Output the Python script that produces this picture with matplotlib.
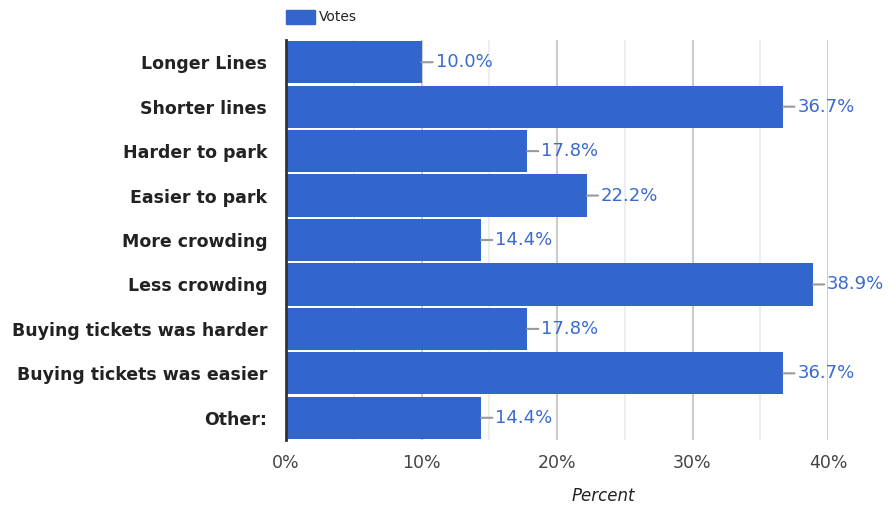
import matplotlib
matplotlib.use("Agg")
import matplotlib.pyplot as plt
from matplotlib.patches import Rectangle

categories = ["Longer Lines", "Shorter lines", "Harder to park", "Easier to park",
              "More crowding", "Less crowding", "Buying tickets was harder",
              "Buying tickets was easier", "Other:"]
values = [10.0, 36.7, 17.8, 22.2, 14.4, 38.9, 17.8, 36.7, 14.4]
major_ticks = [0, 10, 20, 30, 40]
minor_ticks = [5, 15, 25, 35]
series_name = "Votes"
x_label = "Percent"

bar_color = "#3366cc"

fig = plt.figure(figsize=(8.9, 5.05), dpi=100)
ax = fig.add_axes([286/890, 1-440/505, (828-286)/890, 400/505])

y = list(range(len(categories)))
ax.barh(y, values, height=0.95, color=bar_color, zorder=3)
ax.set_ylim(len(categories)-0.5, -0.5)
ax.set_xlim(0, 40)

for v in major_ticks[1:]:
    ax.axvline(v, color="#cccccc", lw=1.5, zorder=1)
for v in minor_ticks:
    ax.axvline(v, color="#ebebeb", lw=1.2, zorder=1)

ax.set_xticks(major_ticks)
ax.set_xticklabels([f"{t}%" for t in major_ticks])
ax.tick_params(axis="x", length=0, pad=10, labelsize=12.5, labelcolor="#444444")
ax.set_yticks(y)
ax.set_yticklabels(categories, fontweight="bold", fontsize=12.5, color="#222222")
ax.tick_params(axis="y", length=0, pad=13.5)

for s in ["top", "right", "bottom"]:
    ax.spines[s].set_visible(False)
ax.spines["left"].set_color("#333333")
ax.spines["left"].set_linewidth(2)
ax.spines["left"].set_zorder(4)

for yi, v in zip(y, values):
    ax.annotate(f"{v:.1f}%", xy=(v, yi), xytext=(14, 0), textcoords="offset pixels",
                ha="left", va="center", fontsize=13, color="#3a6ad0",
                arrowprops=dict(arrowstyle="-", color="#999999", lw=1.5,
                                shrinkA=0, shrinkB=0),
                annotation_clip=False, zorder=5)

ax.set_xlabel(x_label, fontstyle="italic", fontsize=12, color="#222222")
ax.xaxis.set_label_coords((603-286)/(828-286), -(487-440)/400)

# legend
fig.patches.append(Rectangle((286/890, 1-24/505), 29/890, 14/505,
                             transform=fig.transFigure, color=bar_color))
fig.text(319/890, 1-17/505, series_name, fontsize=10, color="#222222",
         ha="left", va="center")

fig.savefig("out.png", dpi=100)
